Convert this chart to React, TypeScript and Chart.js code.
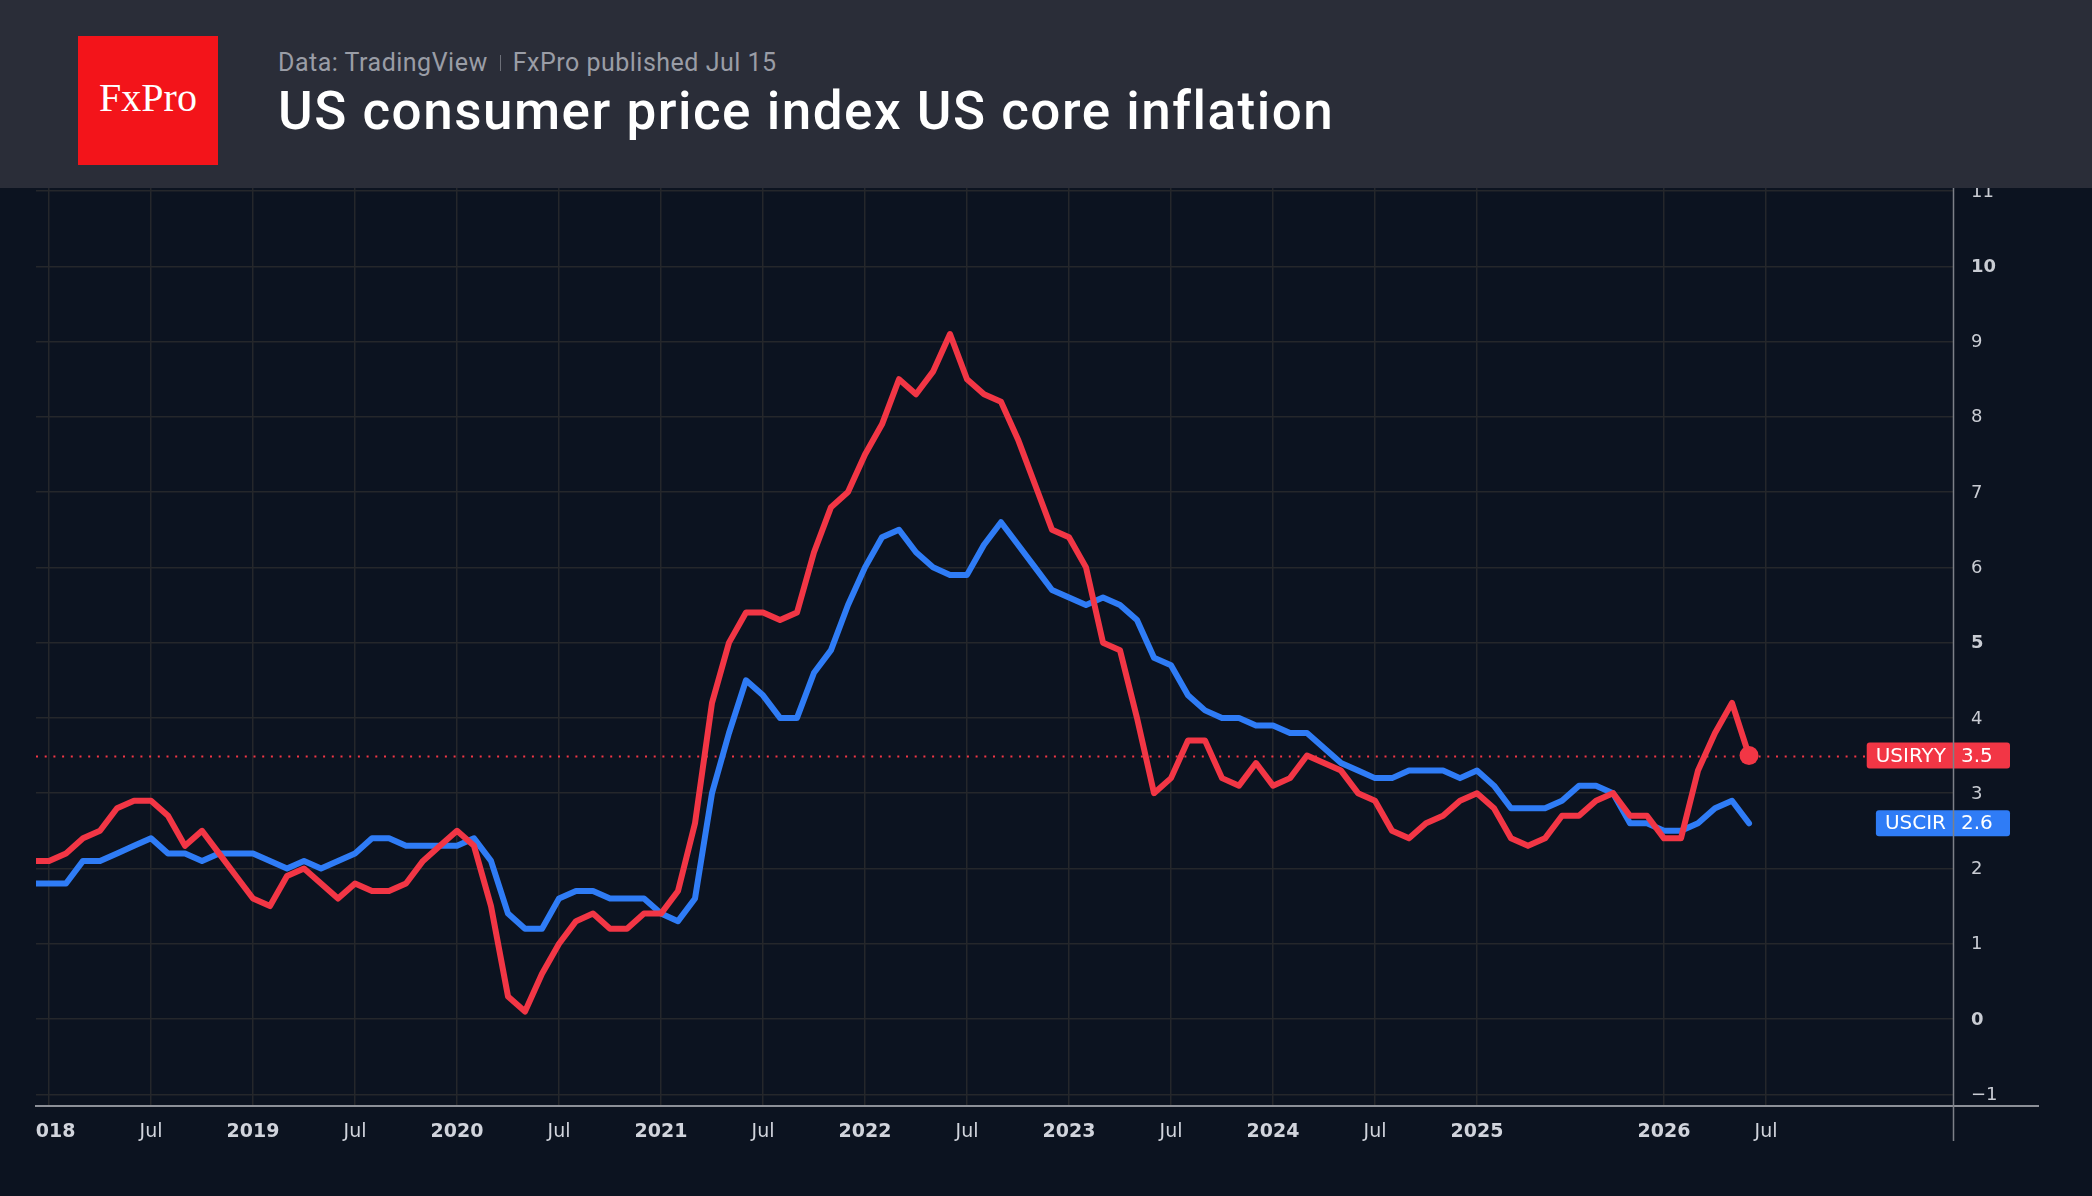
import React, { useEffect, useRef } from 'react';
import { Chart, registerables } from 'chart.js';

Chart.register(...registerables);

// Monthly observations (Oct 2025 not published -> absent)
const months = [
  '2017-12',
  '2018-01', '2018-02', '2018-03', '2018-04', '2018-05', '2018-06', '2018-07', '2018-08', '2018-09', '2018-10', '2018-11', '2018-12',
  '2019-01', '2019-02', '2019-03', '2019-04', '2019-05', '2019-06', '2019-07', '2019-08', '2019-09', '2019-10', '2019-11', '2019-12',
  '2020-01', '2020-02', '2020-03', '2020-04', '2020-05', '2020-06', '2020-07', '2020-08', '2020-09', '2020-10', '2020-11', '2020-12',
  '2021-01', '2021-02', '2021-03', '2021-04', '2021-05', '2021-06', '2021-07', '2021-08', '2021-09', '2021-10', '2021-11', '2021-12',
  '2022-01', '2022-02', '2022-03', '2022-04', '2022-05', '2022-06', '2022-07', '2022-08', '2022-09', '2022-10', '2022-11', '2022-12',
  '2023-01', '2023-02', '2023-03', '2023-04', '2023-05', '2023-06', '2023-07', '2023-08', '2023-09', '2023-10', '2023-11', '2023-12',
  '2024-01', '2024-02', '2024-03', '2024-04', '2024-05', '2024-06', '2024-07', '2024-08', '2024-09', '2024-10', '2024-11', '2024-12',
  '2025-01', '2025-02', '2025-03', '2025-04', '2025-05', '2025-06', '2025-07', '2025-08', '2025-09', '2025-11', '2025-12',
  '2026-01', '2026-02', '2026-03', '2026-04', '2026-05', '2026-06',
];

// USIRYY – US consumer price index, YoY %
const cpi = [
  2.1,
  2.1, 2.2, 2.4, 2.5, 2.8, 2.9, 2.9, 2.7, 2.3, 2.5, 2.2, 1.9,
  1.6, 1.5, 1.9, 2.0, 1.8, 1.6, 1.8, 1.7, 1.7, 1.8, 2.1, 2.3,
  2.5, 2.3, 1.5, 0.3, 0.1, 0.6, 1.0, 1.3, 1.4, 1.2, 1.2, 1.4,
  1.4, 1.7, 2.6, 4.2, 5.0, 5.4, 5.4, 5.3, 5.4, 6.2, 6.8, 7.0,
  7.5, 7.9, 8.5, 8.3, 8.6, 9.1, 8.5, 8.3, 8.2, 7.7, 7.1, 6.5,
  6.4, 6.0, 5.0, 4.9, 4.0, 3.0, 3.2, 3.7, 3.7, 3.2, 3.1, 3.4,
  3.1, 3.2, 3.5, 3.4, 3.3, 3.0, 2.9, 2.5, 2.4, 2.6, 2.7, 2.9,
  3.0, 2.8, 2.4, 2.3, 2.4, 2.7, 2.7, 2.9, 3.0, 2.7, 2.7,
  2.4, 2.4, 3.3, 3.8, 4.2, 3.5,
];

// USCIR – US core inflation, YoY %
const core = [
  1.8,
  1.8, 1.8, 2.1, 2.1, 2.2, 2.3, 2.4, 2.2, 2.2, 2.1, 2.2, 2.2,
  2.2, 2.1, 2.0, 2.1, 2.0, 2.1, 2.2, 2.4, 2.4, 2.3, 2.3, 2.3,
  2.3, 2.4, 2.1, 1.4, 1.2, 1.2, 1.6, 1.7, 1.7, 1.6, 1.6, 1.6,
  1.4, 1.3, 1.6, 3.0, 3.8, 4.5, 4.3, 4.0, 4.0, 4.6, 4.9, 5.5,
  6.0, 6.4, 6.5, 6.2, 6.0, 5.9, 5.9, 6.3, 6.6, 6.3, 6.0, 5.7,
  5.6, 5.5, 5.6, 5.5, 5.3, 4.8, 4.7, 4.3, 4.1, 4.0, 4.0, 3.9,
  3.9, 3.8, 3.8, 3.6, 3.4, 3.3, 3.2, 3.2, 3.3, 3.3, 3.3, 3.2,
  3.3, 3.1, 2.8, 2.8, 2.8, 2.9, 3.1, 3.1, 3.0, 2.6, 2.6,
  2.5, 2.5, 2.6, 2.8, 2.9, 2.6,
];

const seriesNames = ['USIRYY', 'USCIR'];
const seriesColors = ['#f23645', '#2f7cf6'];

const xTickMonths = ['2018-01', '2018-07', '2019-01', '2019-07', '2020-01', '2020-07', '2021-01', '2021-07', '2022-01', '2022-07', '2023-01', '2023-07', '2024-01', '2024-07', '2025-01', '2026-01', '2026-07'];
const xTickLabels = ['2018', 'Jul', '2019', 'Jul', '2020', 'Jul', '2021', 'Jul', '2022', 'Jul', '2023', 'Jul', '2024', 'Jul', '2025', '2026', 'Jul'];
const yTicks = [-1, 0, 1, 2, 3, 4, 5, 6, 7, 8, 9, 10, 11];

const BG = '#0c1320';
const GRID = '#25272b';
const AXIS_FONT = '"DejaVu Sans", sans-serif';

function monthIndex(m: string): number {
  const i = months.indexOf(m);
  if (i >= 0) return i;
  const last = months[months.length - 1];
  const [ly, lm] = last.split('-').map(Number);
  const [y, mo] = m.split('-').map(Number);
  return months.length - 1 + (y - ly) * 12 + (mo - lm);
}

function fmt(v: number): string {
  return v < 0 ? '\u2212' + Math.abs(v) : String(v);
}

const overlayPlugin = {
  id: 'overlay',
  beforeDatasetsDraw(chart: any) {
    const { ctx, chartArea, scales } = chart;
    const y = Math.round(scales.y.getPixelForValue(cpi[cpi.length - 1])) + 0.5;
    ctx.save();
    ctx.strokeStyle = seriesColors[0];
    ctx.lineWidth = 2;
    ctx.setLineDash([2, 6.7]);
    ctx.beginPath();
    ctx.moveTo(chartArea.left, y);
    ctx.lineTo(chartArea.right, y);
    ctx.stroke();
    ctx.restore();
  },
  afterDraw(chart: any) {
    const { ctx, chartArea, scales } = chart;
    const xs = scales.x;
    const ys = scales.y;
    // x tick labels, clipped to the plot's left edge
    ctx.save();
    ctx.beginPath();
    ctx.rect(chartArea.left, chartArea.bottom, chart.width - chartArea.left, chart.height - chartArea.bottom);
    ctx.clip();
    ctx.fillStyle = '#d1d4dc';
    ctx.textAlign = 'center';
    ctx.textBaseline = 'middle';
    xs.ticks.forEach((t: any, i: number) => {
      const lab = xTickLabels[i];
      ctx.font = (lab === 'Jul' ? 'normal ' : 'bold ') + '19px ' + AXIS_FONT;
      ctx.fillText(lab, xs.getPixelForValue(t.value), chartArea.bottom + 26);
    });
    ctx.restore();

    // y tick labels
    ctx.save();
    ctx.fillStyle = '#c9ccd3';
    ctx.textAlign = 'left';
    ctx.textBaseline = 'middle';
    ys.ticks.forEach((t: any) => {
      const v = t.value;
      ctx.font = (v % 5 === 0 ? 'bold ' : 'normal ') + '18px ' + AXIS_FONT;
      ctx.fillText(fmt(v), chartArea.right + 18, ys.getPixelForValue(v) + 1);
    });
    ctx.restore();

    // last-value boxes
    const lastVals = [cpi[cpi.length - 1], core[core.length - 1]];
    ctx.save();
    ctx.font = '20px ' + AXIS_FONT;
    ctx.textBaseline = 'middle';
    lastVals.forEach((v, k) => {
      const yy = ys.getPixelForValue(v);
      const nameW = ctx.measureText(seriesNames[k]).width;
      const right = chartArea.right + 57;
      const left = chartArea.right - 7 - nameW - 9;
      const h = 26;
      ctx.fillStyle = seriesColors[k];
      ctx.beginPath();
      ctx.roundRect(left, yy - h / 2, right - left, h, 3);
      ctx.fill();
      ctx.fillStyle = '#ffffff';
      ctx.textAlign = 'right';
      ctx.fillText(seriesNames[k], chartArea.right - 7, yy + 1);
      ctx.textAlign = 'left';
      ctx.fillText(String(v), chartArea.right + 8, yy + 1);
    });
    ctx.restore();

    // axis lines
    ctx.save();
    ctx.strokeStyle = '#8d9098';
    ctx.lineWidth = 2;
    ctx.beginPath();
    ctx.moveTo(chartArea.left - 1, chartArea.bottom);
    ctx.lineTo(chartArea.right + 86, chartArea.bottom);
    ctx.stroke();
    ctx.strokeStyle = '#7d8088';
    ctx.lineWidth = 1.5;
    ctx.beginPath();
    ctx.moveTo(chartArea.right + 0.5, 0);
    ctx.lineTo(chartArea.right + 0.5, chartArea.bottom + 35);
    ctx.stroke();
    ctx.restore();
  },
};

export default function App() {
  const canvasRef = useRef<HTMLCanvasElement | null>(null);

  useEffect(() => {
    document.body.style.margin = '0';
    document.body.style.background = BG;
    const canvas = canvasRef.current;
    if (!canvas) return;
    const chart = new Chart(canvas, {
      type: 'line',
      data: {
        datasets: [
          {
            label: seriesNames[0],
            data: cpi.map((v, i) => ({ x: i, y: v })),
            borderColor: seriesColors[0],
            backgroundColor: seriesColors[0],
            borderWidth: 6,
            pointRadius: cpi.map((_, i) => (i === cpi.length - 1 ? 9.5 : 0)),
            pointBackgroundColor: seriesColors[0],
            pointBorderWidth: 0,
            order: 0,
          },
          {
            label: seriesNames[1],
            data: core.map((v, i) => ({ x: i, y: v })),
            borderColor: seriesColors[1],
            backgroundColor: seriesColors[1],
            borderWidth: 6,
            pointRadius: 0,
            order: 1,
          },
        ],
      },
      options: {
        animation: false,
        responsive: false,
        devicePixelRatio: 1,
        layout: { autoPadding: false, padding: { left: 36, top: 0, right: 0, bottom: 0 } },
        elements: { line: { tension: 0, borderJoinStyle: 'round', borderCapStyle: 'round' } },
        plugins: { legend: { display: false }, tooltip: { enabled: false } },
        scales: {
          x: {
            type: 'linear',
            min: 0.235,
            max: 113,
            afterBuildTicks: (s: any) => {
              s.ticks = xTickMonths.map((m) => ({ value: monthIndex(m) }));
            },
            afterFit: (s: any) => {
              s.height = 90;
            },
            ticks: { display: false },
            grid: { color: GRID, lineWidth: 1.5, drawTicks: false },
            border: { display: false },
          },
          y: {
            type: 'linear',
            position: 'right',
            min: -1.156,
            max: 11.04,
            afterBuildTicks: (s: any) => {
              s.ticks = yTicks.map((v) => ({ value: v }));
            },
            afterFit: (s: any) => {
              s.width = 139;
            },
            ticks: { display: false },
            grid: { color: GRID, lineWidth: 1.5, drawTicks: false },
            border: { display: false },
          },
        },
      },
      plugins: [overlayPlugin],
    } as any);
    return () => chart.destroy();
  }, []);

  return (
    <div style={{ position: 'fixed', left: 0, top: 0, width: 2092, height: 1196, background: BG, overflow: 'hidden' }}>
      <canvas ref={canvasRef} width={2092} height={1008} style={{ position: 'absolute', left: 0, top: 188, width: 2092, height: 1008 }} />
      <div style={{ position: 'absolute', left: 0, top: 0, width: 2092, height: 188, background: '#2a2d38' }}>
        <div
          style={{
            position: 'absolute', left: 78, top: 36, width: 140, height: 129, background: '#f3141a',
            display: 'flex', alignItems: 'center', justifyContent: 'center', boxSizing: 'border-box', paddingBottom: 6,
            color: '#ffffff', fontFamily: '"Liberation Serif", serif', fontSize: 40, lineHeight: 1,
          }}
        >
          FxPro
        </div>
        <div
          style={{
            position: 'absolute', left: 278, top: 50, fontFamily: 'Roboto, sans-serif', fontSize: 25,
            letterSpacing: 0.5, lineHeight: 1, color: '#9a9da6', whiteSpace: 'nowrap', display: 'flex', alignItems: 'center',
          }}
        >
          <span>Data: TradingView</span>
          <span style={{ display: 'inline-block', width: 1, height: 16, background: '#6d7079', margin: '0 12px 0 12px' }} />
          <span>FxPro published Jul 15</span>
        </div>
        <div
          style={{
            position: 'absolute', left: 278, top: 85, fontFamily: 'Roboto, sans-serif', fontSize: 53, fontWeight: 500,
            letterSpacing: 1.5, lineHeight: 1, color: '#ffffff', whiteSpace: 'nowrap',
          }}
        >
          US consumer price index US core inflation
        </div>
      </div>
    </div>
  );
}
